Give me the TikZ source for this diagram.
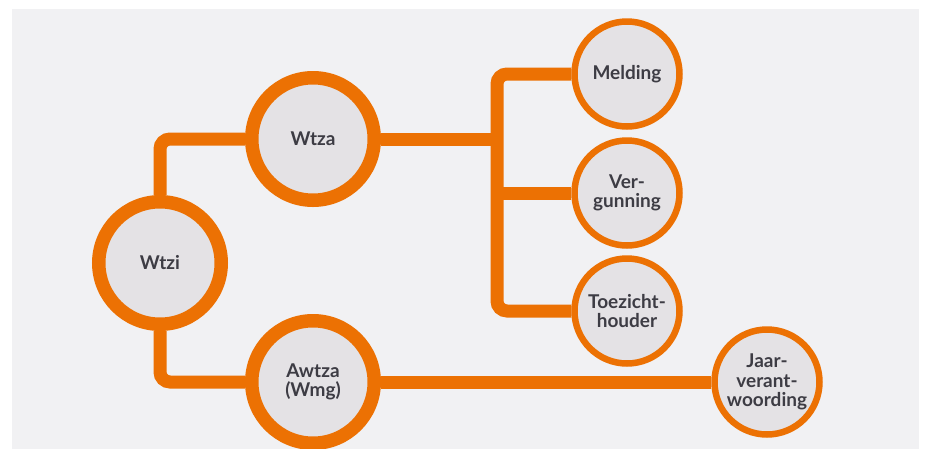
\documentclass[tikz,border=0pt]{standalone}
\usepackage{fontspec}
\setmainfont{Lato}
\definecolor{wtorange}{HTML}{EC7103}
\definecolor{wtfill}{HTML}{E4E2E5}
\definecolor{wtback}{HTML}{F1F1F3}
\definecolor{wttext}{HTML}{3D3C44}
\tikzset{%
  law/.style      = {shape=circle, draw=wtorange, fill=wtfill,%
                     text=wttext, align=center,%
                     line width=13.5pt, minimum size=122.5pt},%
  part/.style     = {law, line width=6.5pt, minimum size=105pt},%
  conn/.style     = {draw=wtorange, line width=13pt, rounded corners=10pt}%
}

\begin{document}
\begin{tikzpicture}[x=1pt,y=-1pt,
	every node/.style = {font=\bfseries\fontsize{19}{19.5}\selectfont,inner sep=0pt}]
	\useasboundingbox (0,0) rectangle (927,448);
	\fill [white] (0,0) rectangle (927,448);
	\fill [wtback] (12,9) rectangle (919,460);
	\node [law] (wtzi) at (160,263) {Wtzi};
	\node [law] (wtza) at (313,139) {Wtza};
	\node [law] (awtza) at (313,382) {Awtza\\(Wmg)};
	\node [part] (melding) at (627,74) {Melding};
	\node [part] (vergunning) at (627,193) {Ver-\\gunning};
	\node [part] (toezicht) at (627,311) {Toezicht-\\houder};
	\node [part] (jaar) at (767,382) {Jaar-\\verant-\\woording};
	\coordinate (split) at (497,139);
	\draw [conn] (wtzi.north) |- (wtza.west);
	\draw [conn] (wtzi.south) |- (awtza.west);
	\draw [conn] (wtza.east) -- (split);
	\draw [conn] (melding.west) -| (split) |- (toezicht.west);
	\draw [conn] (split |- vergunning.west) -- (vergunning.west);
	\draw [conn] (awtza.east) -- (jaar.west);
\end{tikzpicture}
\end{document}
